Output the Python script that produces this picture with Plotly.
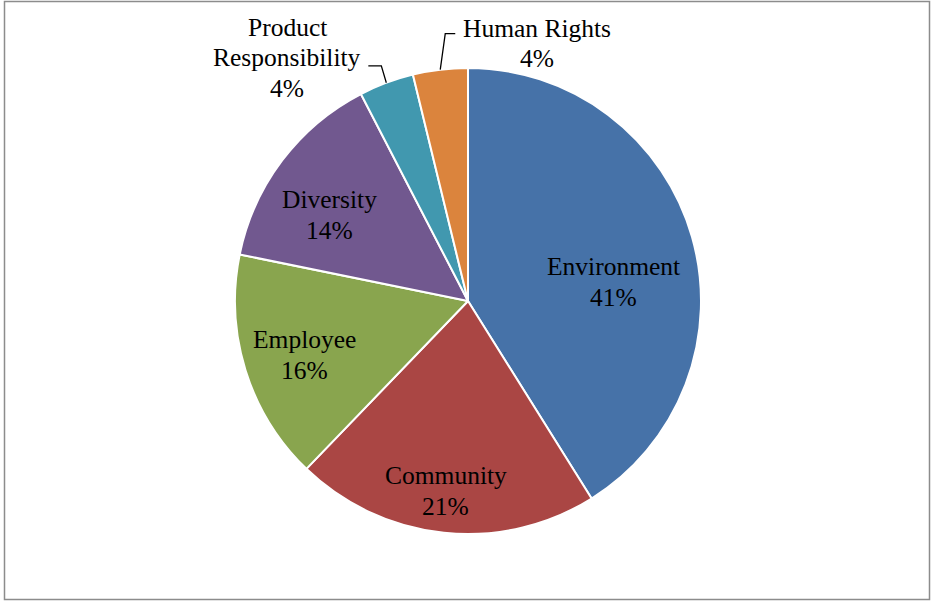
import math
import plotly.graph_objects as go

# ---- data ----
categories = ["Environment", "Community", "Employee", "Diversity",
              "Product<br>Responsibility", "Human Rights"]
shares = [41.1, 21.1, 16.0, 14.2, 3.8, 3.8]
colors = ["#4672A8", "#AA4644", "#89A54E", "#71588F", "#4198AF", "#DB843D"]

# ---- layout constants (pixels) ----
W, H = 932, 601
CX, CY, R = 468, 301, 233
FONT = dict(family="Liberation Serif, Times New Roman, serif", size=25.5, color="#000000")
LINE_SPACING = 30.5

# inside-label placement (radius fraction, angle nudge in degrees)
inside_style = {0: (0.63, 8.6), 1: (0.82, 0.7), 2: (0.74, -0.9), 3: (0.70, -5.2)}
# outside labels: elbow offset, line end offset, text centre offset (from slice edge point)
outside_style = {
    4: ((-5, -17), (-18, -17), (-99, -25)),
    5: ((5, -36), (15, -36), (97, -26)),
}

def px(x):
    return x / W

def py(y):
    return 1 - y / H

fig = go.Figure(go.Pie(
    labels=categories,
    values=shares,
    sort=False,
    direction="clockwise",
    rotation=0,
    marker=dict(colors=colors, line=dict(color="#FFFFFF", width=2)),
    textinfo="none",
    hoverinfo="label+percent",
    showlegend=False,
    domain=dict(x=[px(CX - R), px(CX + R)], y=[py(CY + R), py(CY - R)]),
))

total = sum(shares)
annotations, shapes = [], []


def add_label(lines, xc, yc):
    n = len(lines)
    for k, line in enumerate(lines):
        y = yc + (k - (n - 1) / 2) * LINE_SPACING
        annotations.append(dict(x=px(xc), y=py(y), xref="paper", yref="paper",
                                text=line, showarrow=False, font=FONT,
                                xanchor="center", yanchor="middle", align="center"))


cum = 0.0
for i, (cat, v) in enumerate(zip(categories, shares)):
    mid = (cum + v / 2) / total * 360.0
    cum += v
    pct = f"{round(v / total * 100)}%"
    lines = cat.split("<br>") + [pct]
    if i in inside_style:
        f, nudge = inside_style[i]
        a = math.radians(mid + nudge)
        add_label(lines, CX + f * R * math.sin(a), CY - f * R * math.cos(a))
    else:
        a = math.radians(mid)
        ex = CX + R * math.sin(a)
        ey = CY - R * math.cos(a)
        (bx, by), (lx, ly), (tx, ty) = outside_style[i]
        path = (f"M {px(ex)} {py(ey)} L {px(ex + bx)} {py(ey + by)} "
                f"L {px(ex + lx)} {py(ey + ly)}")
        shapes.append(dict(type="path", xref="paper", yref="paper", path=path,
                           line=dict(color="#000000", width=1.3)))
        add_label(lines, ex + tx, ey + ty)

# chart frame
shapes.append(dict(type="rect", xref="paper", yref="paper",
                   x0=px(4.5), x1=px(929.5), y0=py(599.5), y1=py(1.5),
                   line=dict(color="#8C8C8C", width=1.5), fillcolor="rgba(0,0,0,0)",
                   layer="below"))

fig.update_layout(
    width=W, height=H,
    margin=dict(l=0, r=0, t=0, b=0),
    paper_bgcolor="#FFFFFF",
    plot_bgcolor="#FFFFFF",
    annotations=annotations,
    shapes=shapes,
)

fig.write_html("out.html")
